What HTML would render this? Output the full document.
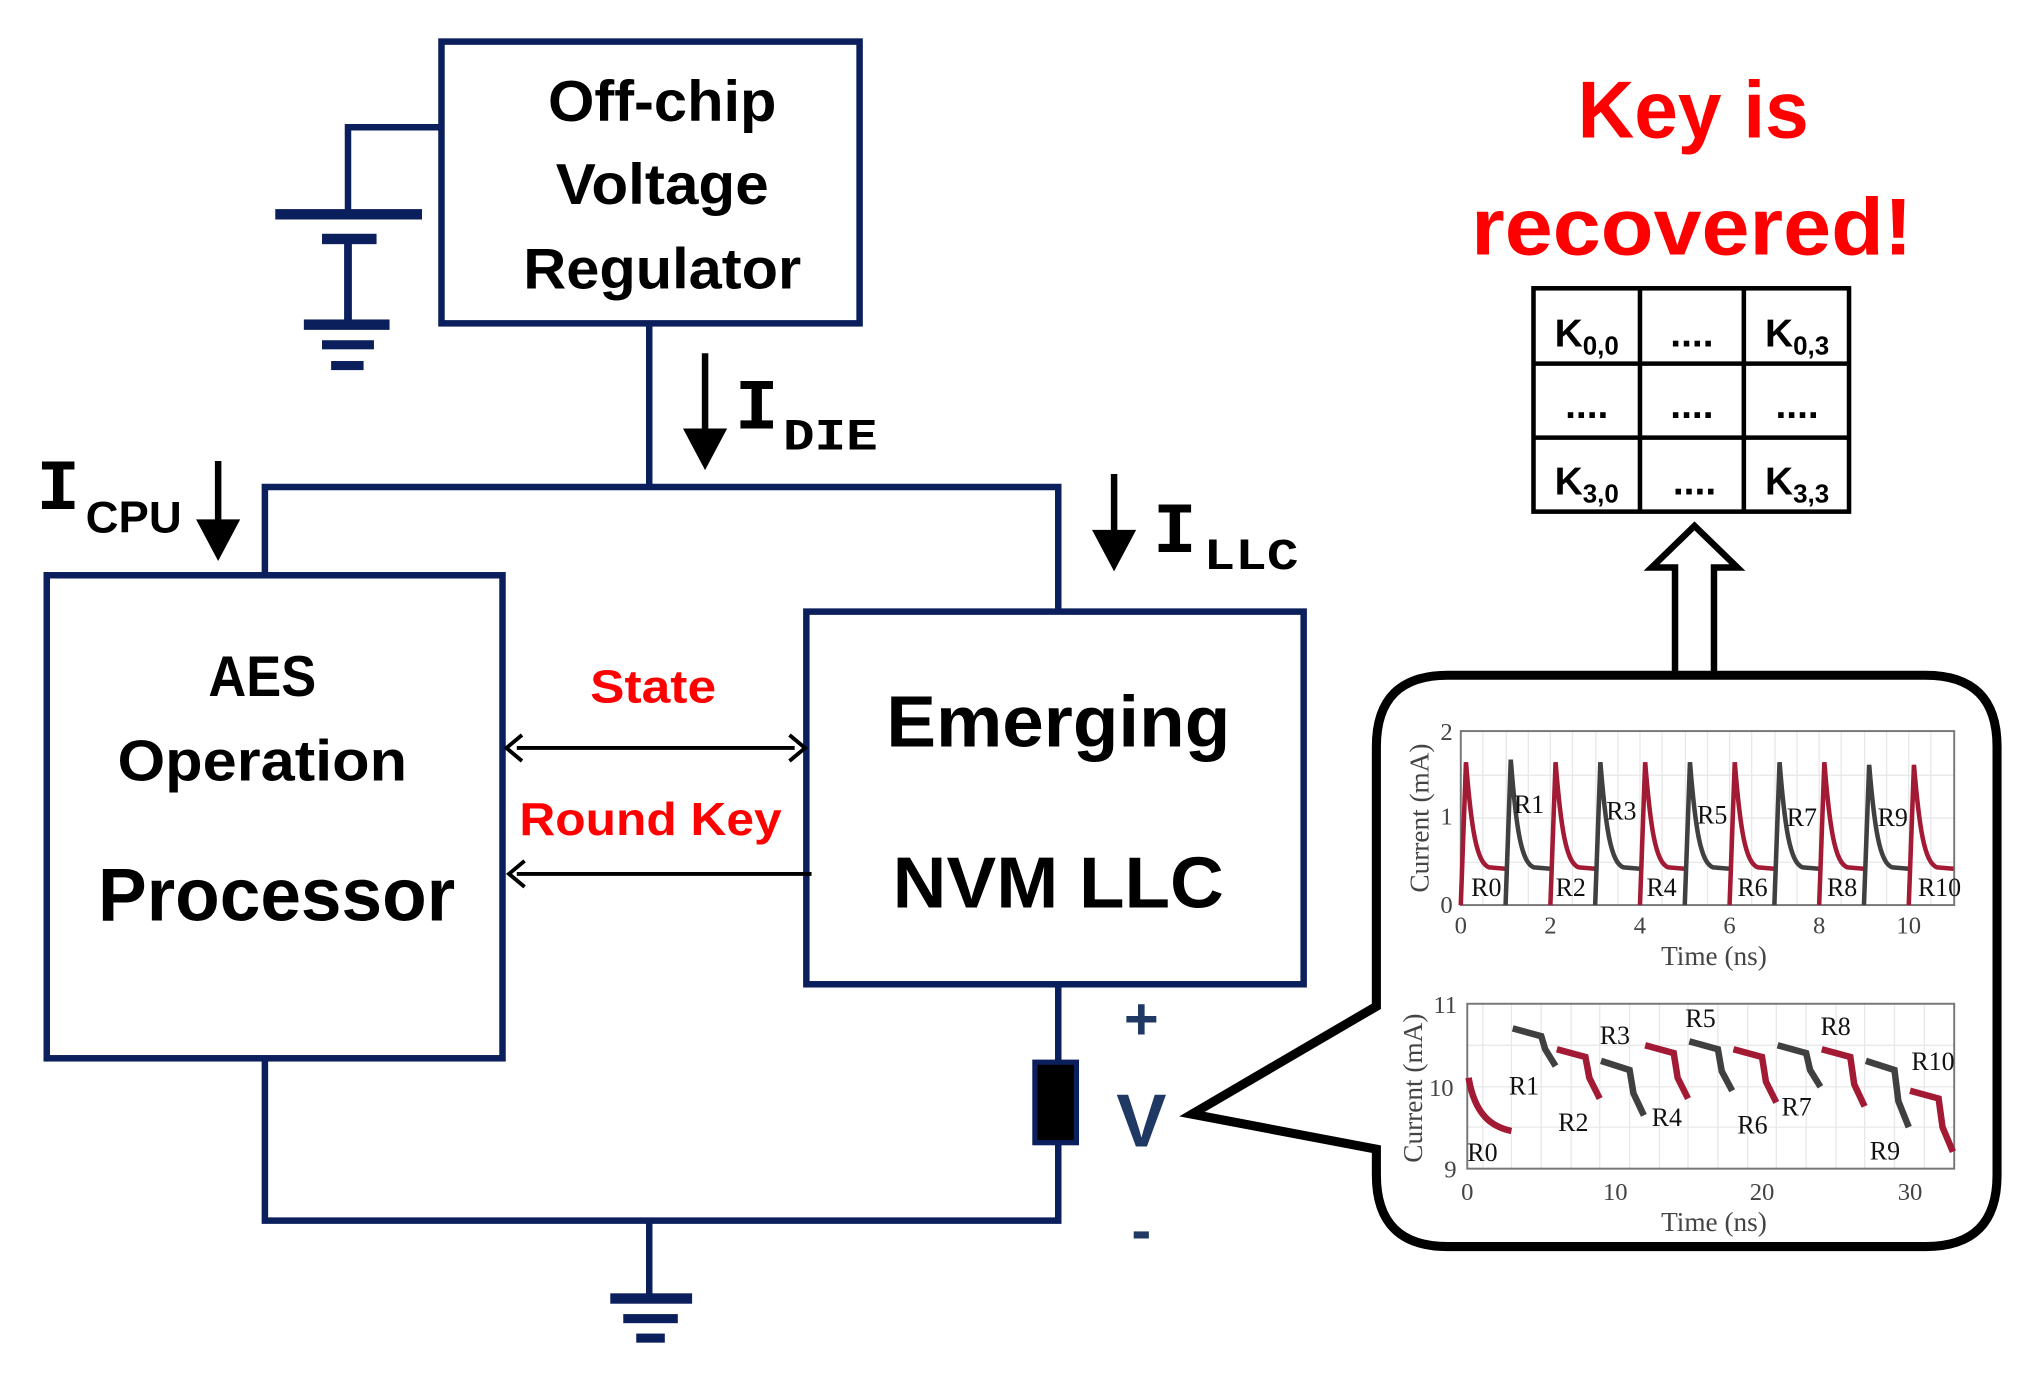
<!DOCTYPE html>
<html><head><meta charset="utf-8"><style>html,body{margin:0;padding:0;background:#fff}svg{display:block}</style></head><body>
<svg width="2036" height="1381" viewBox="0 0 1568 1063.5" xmlns="http://www.w3.org/2000/svg">
<rect width="1568" height="1064" fill="#fff"/>
<g stroke="#0b1f5c" fill="none" stroke-width="5">
<rect x="340" y="32" width="322" height="217"/>
<polyline points="342,98 268,98 268,165"/>
<line x1="500" y1="249" x2="500" y2="377"/>
<polyline points="204,443 204,375 815,375 815,471"/>
<rect x="36" y="443" width="351" height="372"/>
<rect x="621" y="471" width="383" height="287"/>
<polyline points="204,815 204,940 815,940 815,880"/>
<line x1="815" y1="758" x2="815" y2="818"/>
<line x1="500" y1="940" x2="500" y2="1000"/>
</g>
<g fill="#0b1f5c">
<rect x="212" y="161" width="113" height="8"/>
<rect x="248" y="180" width="42" height="8"/>
<rect x="265" y="184" width="6" height="66"/>
<rect x="234" y="246" width="66" height="8"/>
<rect x="248" y="262" width="40" height="7"/>
<rect x="255" y="278" width="25" height="7"/>
<rect x="470" y="996" width="63" height="8"/>
<rect x="480" y="1012" width="42" height="7"/>
<rect x="490" y="1027" width="22" height="7"/>
</g>
<rect x="797" y="818" width="32" height="62" fill="#000" stroke="#0b1f5c" stroke-width="4"/>
<g font-family="Liberation Sans, sans-serif" font-weight="bold" text-anchor="middle" fill="#000">
<text x="510" y="93" font-size="44" textLength="176" lengthAdjust="spacingAndGlyphs">Off-chip</text>
<text x="510" y="157" font-size="44" textLength="164" lengthAdjust="spacingAndGlyphs">Voltage</text>
<text x="510" y="222" font-size="44" textLength="214" lengthAdjust="spacingAndGlyphs">Regulator</text>
<text x="202" y="536" font-size="44" textLength="83" lengthAdjust="spacingAndGlyphs">AES</text>
<text x="202" y="601" font-size="44" textLength="223" lengthAdjust="spacingAndGlyphs">Operation</text>
<text x="213" y="709" font-size="58" textLength="275" lengthAdjust="spacingAndGlyphs">Processor</text>
<text x="815" y="575" font-size="56" textLength="265" lengthAdjust="spacingAndGlyphs">Emerging</text>
<text x="815" y="699" font-size="56" textLength="255" lengthAdjust="spacingAndGlyphs">NVM LLC</text>
<text x="503" y="541" font-size="36" fill="#f00" textLength="97" lengthAdjust="spacingAndGlyphs">State</text>
<text x="501" y="643" font-size="36" fill="#f00" textLength="202" lengthAdjust="spacingAndGlyphs">Round Key</text>
<text x="1304" y="106" font-size="62" fill="#f00" textLength="178" lengthAdjust="spacingAndGlyphs">Key is</text>
<text x="1303" y="196" font-size="62" fill="#f00" textLength="340" lengthAdjust="spacingAndGlyphs">recovered!</text>
<text x="879" y="800" font-size="46" fill="#1f3864">+</text>
<text x="879" y="883" font-size="58" fill="#1f3864">V</text>
<text x="879" y="963" font-size="46" fill="#1f3864">-</text>
</g>
<g font-family="Liberation Mono, monospace" font-weight="bold" fill="#000">
<text x="566" y="330" font-size="56">I</text><text x="603" y="346" font-size="34" textLength="73" lengthAdjust="spacingAndGlyphs">DIE</text>
<text x="28" y="392" font-size="56">I</text><text x="66" y="410" font-size="34" font-family="Liberation Sans, sans-serif" textLength="74" lengthAdjust="spacingAndGlyphs">CPU</text>
<text x="888" y="425" font-size="56">I</text><text x="927" y="438" font-size="34" textLength="73" lengthAdjust="spacingAndGlyphs">LLC</text>
</g>
<g stroke="#000" stroke-width="5" fill="#000">
<line x1="543" y1="272" x2="543" y2="335"/><polygon points="526,330 560,330 543,362" stroke="none"/>
<line x1="168" y1="355" x2="168" y2="405"/><polygon points="151,400 185,400 168,432" stroke="none"/>
<line x1="858" y1="365" x2="858" y2="413"/><polygon points="841,408 875,408 858,440" stroke="none"/>
</g>
<g stroke="#000" stroke-width="3" fill="none">
<line x1="398" y1="576" x2="612" y2="576"/>
<polyline points="402,566 390,576 402,586"/><polyline points="608,566 620,576 608,586"/>
<line x1="398" y1="673" x2="625" y2="673"/>
<polyline points="404,663 392,673 404,683"/>
</g>
<g stroke="#000" stroke-width="3.5" fill="#fff">
<rect x="1181" y="222" width="243" height="172"/>
<line x1="1263" y1="222" x2="1263" y2="394"/><line x1="1343" y1="222" x2="1343" y2="394"/>
<line x1="1181" y1="280" x2="1424" y2="280"/><line x1="1181" y1="337" x2="1424" y2="337"/>
</g>
<g font-family="Liberation Sans, sans-serif" font-weight="bold" font-size="30" fill="#000" text-anchor="middle">
<text x="1222" y="267">K<tspan font-size="20" dy="6">0,0</tspan></text>
<text x="1384" y="267">K<tspan font-size="20" dy="6">0,3</tspan></text>
<text x="1222" y="381">K<tspan font-size="20" dy="6">3,0</tspan></text>
<text x="1384" y="381">K<tspan font-size="20" dy="6">3,3</tspan></text>
<text x="1303" y="267">....</text><text x="1222" y="322">....</text><text x="1303" y="322">....</text>
<text x="1384" y="322">....</text><text x="1305" y="381">....</text>
</g>
<polygon points="1290,522 1290,437 1272,437 1305,405 1338,437 1320,437 1320,522" fill="#fff" stroke="#000" stroke-width="5"/>
<path d="M1115,520 H1483 Q1538,520 1538,575 V905 Q1538,960 1483,960 H1115 Q1060,960 1060,905 V885 L918,858 L1060,775 V575 Q1060,520 1115,520 Z" fill="#fff" stroke="#000" stroke-width="7"/>
<g stroke="#e8e8e8" stroke-width="1">
<path d="M1142,563V697M1160,563V697M1177,563V697M1194,563V697M1211,563V697M1229,563V697M1246,563V697M1263,563V697M1280,563V697M1298,563V697M1315,563V697M1332,563V697M1349,563V697M1367,563V697M1384,563V697M1401,563V697M1418,563V697M1436,563V697M1453,563V697M1470,563V697M1487,563V697"/>
<path d="M1125,597H1505M1125,630H1505M1125,664H1505"/>
<path d="M1142,773V900M1164,773V900M1187,773V900M1210,773V900M1232,773V900M1255,773V900M1278,773V900M1300,773V900M1323,773V900M1346,773V900M1368,773V900M1391,773V900M1414,773V900M1436,773V900M1459,773V900M1482,773V900"/>
<path d="M1130,805H1505M1130,837H1505M1130,868H1505"/>
</g>
<rect x="1125" y="563" width="380" height="134" fill="none" stroke="#777" stroke-width="1.5"/>
<rect x="1130" y="773" width="375" height="127" fill="none" stroke="#777" stroke-width="1.5"/>
<g fill="none" stroke-width="3.5">
<path d="M0,0 L4,-110 C8,-60 12,-32 22,-29 L34.5,-28" stroke="#a31a34" transform="translate(1125,697)"/>
<path d="M0,0 L4,-112 C8,-60 12,-32 22,-29 L34.5,-28" stroke="#404040" transform="translate(1159.5,697)"/>
<path d="M0,0 L4,-110 C8,-60 12,-32 22,-29 L34.5,-28" stroke="#a31a34" transform="translate(1194,697)"/>
<path d="M0,0 L4,-110 C8,-60 12,-32 22,-29 L34.5,-28" stroke="#404040" transform="translate(1228.5,697)"/>
<path d="M0,0 L4,-110 C8,-60 12,-32 22,-29 L34.5,-28" stroke="#a31a34" transform="translate(1263,697)"/>
<path d="M0,0 L4,-110 C8,-60 12,-32 22,-29 L34.5,-28" stroke="#404040" transform="translate(1297.5,697)"/>
<path d="M0,0 L4,-110 C8,-60 12,-32 22,-29 L34.5,-28" stroke="#a31a34" transform="translate(1332,697)"/>
<path d="M0,0 L4,-110 C8,-60 12,-32 22,-29 L34.5,-28" stroke="#404040" transform="translate(1366.5,697)"/>
<path d="M0,0 L4,-110 C8,-60 12,-32 22,-29 L34.5,-28" stroke="#a31a34" transform="translate(1401,697)"/>
<path d="M0,0 L4,-108 C8,-60 12,-32 22,-29 L34.5,-28" stroke="#404040" transform="translate(1435.5,697)"/>
<path d="M0,0 L4,-108 C8,-60 12,-32 22,-29 L34.5,-28" stroke="#a31a34" transform="translate(1470,697)"/>
</g>
<g fill="none" stroke-width="5">
<path d="M1131,830 C1136,860 1150,868 1164,871" stroke="#a31a34"/>
<path d="M1165,792 L1187,798 L1190,808 L1198,821" stroke="#404040"/>
<path d="M1199,808 L1221,814 L1224,830 L1232,846" stroke="#a31a34"/>
<path d="M1233,817 L1255,824 L1258,842 L1266,859" stroke="#404040"/>
<path d="M1267,805 L1289,811 L1292,830 L1300,846" stroke="#a31a34"/>
<path d="M1301,802 L1323,808 L1326,825 L1334,840" stroke="#404040"/>
<path d="M1335,808 L1357,814 L1360,833 L1368,849" stroke="#a31a34"/>
<path d="M1369,805 L1391,811 L1394,824 L1402,837" stroke="#404040"/>
<path d="M1403,808 L1425,814 L1428,835 L1436,852" stroke="#a31a34"/>
<path d="M1437,817 L1459,824 L1462,848 L1470,868" stroke="#404040"/>
<path d="M1471,840 L1493,846 L1496,868 L1504,887" stroke="#a31a34"/>
</g>
<g font-family="Liberation Serif, serif" font-size="20" fill="#111">
<text x="1133" y="690">R0</text><text x="1166" y="626">R1</text><text x="1198" y="690">R2</text>
<text x="1237" y="631">R3</text><text x="1268" y="690">R4</text><text x="1307" y="634">R5</text>
<text x="1338" y="690">R6</text><text x="1376" y="636">R7</text><text x="1407" y="690">R8</text>
<text x="1446" y="636">R9</text><text x="1477" y="690">R10</text>
<text x="1130" y="894">R0</text><text x="1162" y="843">R1</text><text x="1200" y="871">R2</text>
<text x="1232" y="804">R3</text><text x="1272" y="867">R4</text><text x="1298" y="791">R5</text>
<text x="1338" y="873">R6</text><text x="1372" y="859">R7</text><text x="1402" y="797">R8</text>
<text x="1440" y="893">R9</text><text x="1472" y="824">R10</text>
</g>
<g font-family="Liberation Serif, serif" font-size="19" fill="#444" text-anchor="middle">
<text x="1114" y="570">2</text><text x="1114" y="635">1</text><text x="1114" y="703">0</text>
<text x="1125" y="719">0</text><text x="1194" y="719">2</text><text x="1263" y="719">4</text>
<text x="1332" y="719">6</text><text x="1401" y="719">8</text><text x="1470" y="719">10</text>
<text x="1320" y="743" font-size="21">Time (ns)</text>
<text transform="translate(1100,630) rotate(-90)" font-size="21">Current (mA)</text>
<text x="1113" y="780">11</text><text x="1110" y="844">10</text><text x="1117" y="907">9</text>
<text x="1130" y="924">0</text><text x="1244" y="924">10</text><text x="1357" y="924">20</text><text x="1471" y="924">30</text>
<text x="1320" y="948" font-size="21">Time (ns)</text>
<text transform="translate(1095,838) rotate(-90)" font-size="21">Current (mA)</text>
</g>
</svg>
</body></html>
